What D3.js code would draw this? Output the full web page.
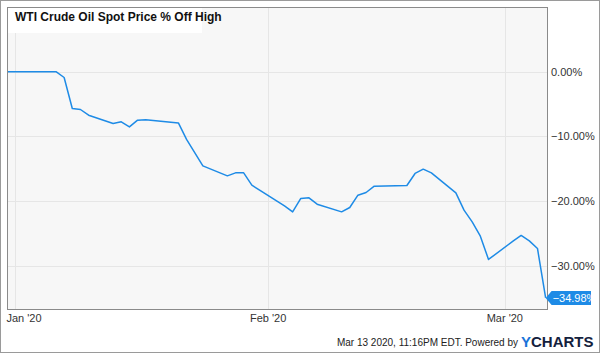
<!DOCTYPE html>
<html>
<head>
<meta charset="utf-8">
<script src="https://cdn.jsdelivr.net/npm/d3@7"></script>
<style>
  body { margin: 0; background: #fff; }
  text { font-family: "Liberation Sans", Arial, sans-serif; }
</style>
</head>
<body>
<div id="chart"></div>
<script>
// dates of each observation (trading days)
var dates = [
  "2019-12-31", "2020-01-02", "2020-01-03", "2020-01-06", "2020-01-07", "2020-01-08",
  "2020-01-09", "2020-01-10", "2020-01-13", "2020-01-14", "2020-01-15", "2020-01-16",
  "2020-01-17", "2020-01-21", "2020-01-22", "2020-01-23", "2020-01-24", "2020-01-27",
  "2020-01-28", "2020-01-29", "2020-01-30", "2020-01-31", "2020-02-03", "2020-02-04",
  "2020-02-05", "2020-02-06", "2020-02-07", "2020-02-10", "2020-02-11", "2020-02-12",
  "2020-02-13", "2020-02-14", "2020-02-18", "2020-02-19", "2020-02-20", "2020-02-21",
  "2020-02-24", "2020-02-25", "2020-02-26", "2020-02-27", "2020-02-28", "2020-03-02",
  "2020-03-03", "2020-03-04", "2020-03-05", "2020-03-06"
];

// % off high
var offHigh = [
  0, 0, 0, 0, -0.90, -5.69,
  -5.85, -6.73, -8.01, -7.76, -8.54, -7.50,
  -7.45, -7.92, -10.48, -12.53, -14.57, -16.11,
  -15.65, -15.65, -17.55, -18.37, -20.74, -21.68,
  -19.61, -19.51, -20.49, -21.68, -21.00, -19.10,
  -18.68, -17.70, -17.60, -15.74, -15.08, -15.65,
  -18.74, -21.42, -23.23, -25.44, -29.04, -26.21,
  -25.33, -26.16, -27.34, -34.98
];

var yTicks = [0, -10, -20, -30];
var xTicks = ["2020-01-01", "2020-02-01", "2020-03-01"];
var xTickLabels = ["Jan '20", "Feb '20", "Mar '20"];

var title = "WTI Crude Oil Spot Price % Off High";
var footer = "Mar 13 2020, 11:16PM EDT.  Powered by";

var W = 600, H = 353;
var plot = {left: 7, top: 7, right: 547, bottom: 309};
var lineColor = "#1e8be6";

var parse = d3.timeParse("%Y-%m-%d");
var data = dates.map(function(d, i) { return {date: parse(d), value: offHigh[i]}; });

var svg = d3.select("#chart")
  .append("svg")
    .attr("width", W)
    .attr("height", H);

// outer frame
svg.append("rect")
  .attr("x", 0.5).attr("y", 0.5)
  .attr("width", W - 1).attr("height", H - 1)
  .attr("fill", "#fff")
  .attr("stroke", "#9a9a9a");

var x = d3.scaleTime()
  .domain([parse("2019-12-31"), new Date(2020, 2, 6, 4)])
  .range([plot.left, plot.right]);

var y = d3.scaleLinear()
  .domain([10, -36.7])
  .range([plot.top, plot.bottom]);

// plot background
svg.append("rect")
  .attr("x", plot.left).attr("y", plot.top)
  .attr("width", plot.right - plot.left)
  .attr("height", plot.bottom - plot.top)
  .attr("fill", "#f7f7f7");

// grid
svg.append("g")
  .selectAll("line")
  .data(yTicks)
  .enter().append("line")
    .attr("x1", plot.left).attr("x2", plot.right)
    .attr("y1", function(d) { return Math.round(y(d)) + 0.5; })
    .attr("y2", function(d) { return Math.round(y(d)) + 0.5; })
    .attr("stroke", "#e6e6e6");

svg.append("g")
  .selectAll("line")
  .data(xTicks)
  .enter().append("line")
    .attr("x1", function(d) { return Math.round(x(parse(d))) + 0.5; })
    .attr("x2", function(d) { return Math.round(x(parse(d))) + 0.5; })
    .attr("y1", plot.top).attr("y2", plot.bottom)
    .attr("stroke", "#e6e6e6");

// title box
var titleG = svg.append("g");
titleG.append("rect")
  .attr("x", plot.left).attr("y", plot.top)
  .attr("width", 195).attr("height", 26)
  .attr("fill", "#fff");
titleG.append("text")
  .attr("x", 15).attr("y", 21)
  .attr("font-size", "12px")
  .attr("font-weight", "bold")
  .attr("fill", "#111")
  .text(title);

// the line
var line = d3.line()
  .x(function(d) { return x(d.date); })
  .y(function(d) { return y(d.value); });

svg.append("path")
  .datum(data)
  .attr("d", line)
  .attr("fill", "none")
  .attr("stroke", lineColor)
  .attr("stroke-width", 1.5)
  .attr("stroke-linejoin", "round");

// plot border
svg.append("rect")
  .attr("x", plot.left + 0.5).attr("y", plot.top + 0.5)
  .attr("width", plot.right - plot.left)
  .attr("height", plot.bottom - plot.top)
  .attr("fill", "none")
  .attr("stroke", "#8a8a8a");

// y axis labels
svg.append("g")
  .selectAll("text")
  .data(yTicks)
  .enter().append("text")
    .attr("x", plot.right + 4)
    .attr("y", function(d) { return y(d) + 4; })
    .attr("font-size", "11px")
    .attr("fill", "#333")
    .text(function(d) { return d3.format(".2f")(d) + "%"; });

// x axis labels
svg.append("g")
  .selectAll("text")
  .data(xTicks)
  .enter().append("text")
    .attr("x", function(d) { return Math.max(x(parse(d)), 24); })
    .attr("y", 322)
    .attr("text-anchor", "middle")
    .attr("font-size", "11px")
    .attr("fill", "#333")
    .text(function(d, i) { return xTickLabels[i]; });

// last value tag
var last = data[data.length - 1];
var ly = y(last.value);
var lx = x(last.date);
svg.append("path")
  .attr("d", "M" + lx + "," + ly + " L" + (lx + 6) + "," + (ly - 7) + " L" + 591 + "," + (ly - 7) +
             " L" + 591 + "," + (ly + 7) + " L" + (lx + 6) + "," + (ly + 7) + " Z")
  .attr("fill", lineColor);
svg.append("text")
  .attr("x", lx + 7)
  .attr("y", ly + 4)
  .attr("font-size", "11px")
  .attr("fill", "#fff")
  .text(d3.format(".2f")(last.value) + "%");

// footer
svg.append("text")
  .attr("x", 518)
  .attr("y", 346)
  .attr("text-anchor", "end")
  .attr("font-size", "10px")
  .attr("fill", "#222")
  .text(footer);

var logo = svg.append("text")
  .attr("x", 521)
  .attr("y", 347)
  .attr("font-size", "15px")
  .attr("font-weight", "bold");
logo.append("tspan").attr("fill", "#1a73d9").text("Y");
logo.append("tspan").attr("fill", "#14213d").text("CHARTS");
</script>
</body>
</html>
